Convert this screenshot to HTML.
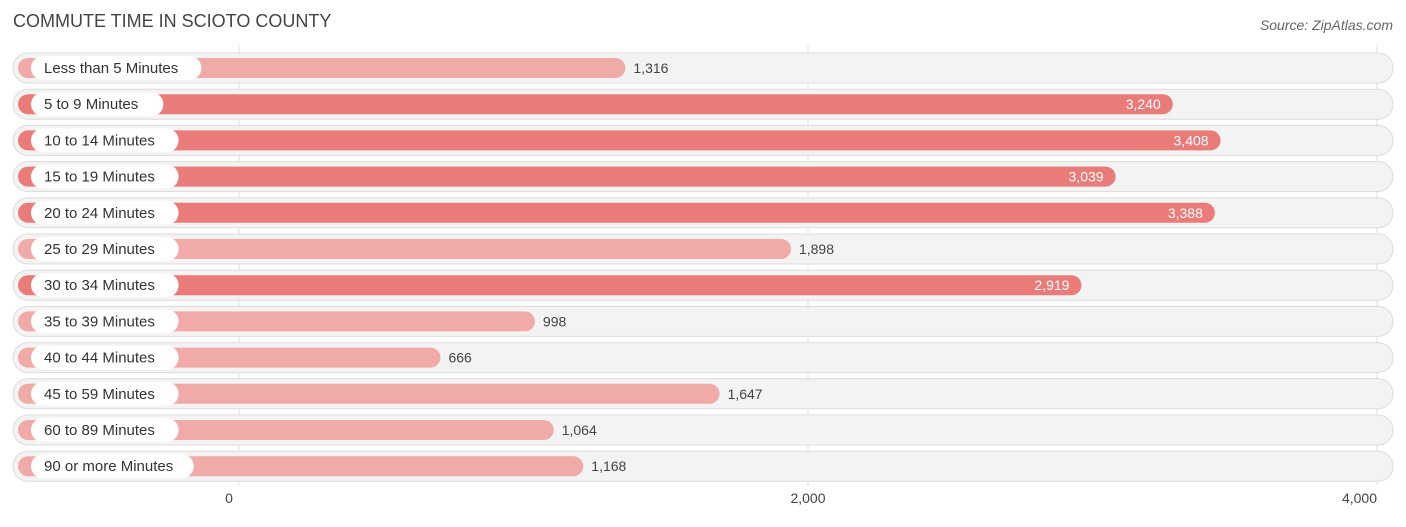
<!DOCTYPE html>
<html><head><meta charset="utf-8">
<style>
body{margin:0;background:#fff;width:1406px;height:522px;overflow:hidden;font-family:"Liberation Sans",sans-serif}
</style></head>
<body>
<svg id="chart" width="1406" height="522" xmlns="http://www.w3.org/2000/svg">
<text x="13" y="27" font-size="18" fill="#444" font-family="Liberation Sans, sans-serif">COMMUTE TIME IN SCIOTO COUNTY</text>
<text x="1393" y="30" font-size="14" fill="#666" font-style="italic" text-anchor="end" font-family="Liberation Sans, sans-serif">Source: ZipAtlas.com</text>
<g id="grid"></g><g id="rows"></g><g id="ticks"></g>
</svg>
<script>
const categories=["Less than 5 Minutes","5 to 9 Minutes","10 to 14 Minutes","15 to 19 Minutes","20 to 24 Minutes","25 to 29 Minutes","30 to 34 Minutes","35 to 39 Minutes","40 to 44 Minutes","45 to 59 Minutes","60 to 89 Minutes","90 or more Minutes"];
const values=[1316,3240,3408,3039,3388,1898,2919,998,666,1647,1064,1168];
const tickValues=[0,2000,4000];
const tickLabels=["0","2,000","4,000"];
const NS="http://www.w3.org/2000/svg";
const x0=239,scale=569/2000;
const xs=v=>x0+v*scale;
const ys=i=>68+i*36.2;
function mk(tag,attrs,parent){const e=document.createElementNS(NS,tag);for(const k in attrs)e.setAttribute(k,attrs[k]);parent.appendChild(e);return e;}
const grid=document.getElementById('grid'),rows=document.getElementById('rows'),ticks=document.getElementById('ticks');
tickValues.forEach((t,i)=>{
 const l=mk('line',{x1:xs(t),x2:xs(t),y1:45,y2:485,stroke:'#ddd','stroke-width':1},grid);
 
 
 const tx=mk('text',{x:xs(t)-(i==0?10:i==2?-0:0),y:503,'font-size':14,fill:'#444','text-anchor':i==2?'end':'middle'},ticks);
 
 
 tx.textContent=tickLabels[i];
});
categories.forEach((c,i)=>{
 const y=ys(i),v=values[i];
 const bg=mk('rect',{x:13,y:y-15,width:1380,height:30,rx:15,fill:'#f3f3f3',stroke:'#dcdcdc','stroke-width':1},rows);
 
 
 const strong=v>2500;
 const end=xs(v)+12;
 const bar=mk('rect',{x:18,y:y-10,width:end-18,height:20,rx:10,fill:strong?'#e97b78':'#f0aaa7'},rows);
 
 
 const lw=c.length*7.6+26;
 const pill=mk('rect',{x:31,y:y-12,width:lw,height:24,rx:12,fill:'#fff'},rows);
 
 
 const lt=mk('text',{x:44,y:y+5,'font-size':15,fill:'#333'},rows);
 
 
 lt.textContent=c;
 const vt=mk('text',{x:strong?end-12:end+8,y:y+5,'font-size':14,fill:strong?'#fff':'#444','text-anchor':strong?'end':'start'},rows);
 
 
 vt.textContent=v.toLocaleString('en-US');
});
</script>
</body></html>
